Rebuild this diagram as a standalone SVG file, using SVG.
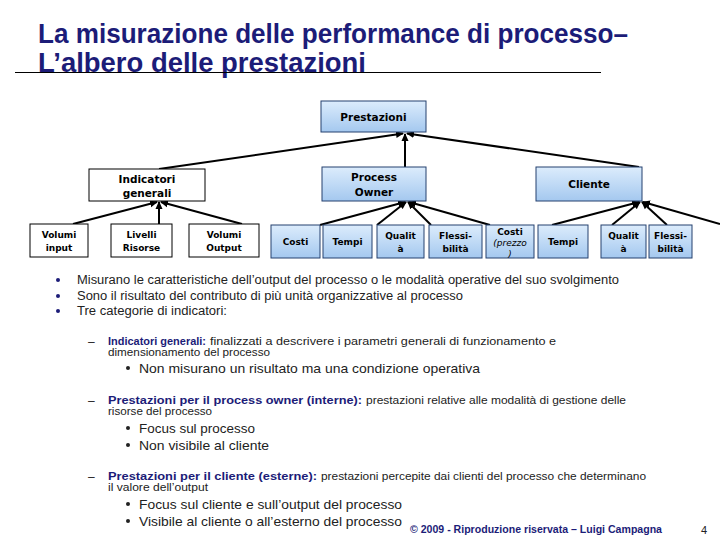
<svg xmlns="http://www.w3.org/2000/svg" width="720" height="540" viewBox="0 0 720 540">
<defs>
<linearGradient id="gb" x1="0" y1="0" x2="0" y2="1">
<stop offset="0" stop-color="#dcecfc"/>
<stop offset="1" stop-color="#a4c8ef"/>
</linearGradient>
<marker id="ah" markerUnits="userSpaceOnUse" markerWidth="8" markerHeight="8" refX="7" refY="4" orient="auto">
<path d="M0,0.5 L8,4 L0,7.5 Z" fill="#000"/>
</marker>
<style>
.bx{fill:url(#gb);stroke:#24406f;stroke-width:1}
.wx{fill:#fff;stroke:#000;stroke-width:1}
.nt{font-family:"DejaVu Sans",Verdana,sans-serif;font-weight:bold;fill:#000;text-anchor:middle}
.it{font-family:"DejaVu Sans",Verdana,sans-serif;font-style:italic;fill:#000;text-anchor:middle}
.cn line{stroke:#000;stroke-width:2;marker-end:url(#ah)}
.tt{font-family:"Liberation Sans",Arial,sans-serif;font-weight:bold;fill:#1c1c78;font-size:27px}
.bd{font-family:"Liberation Sans",Arial,sans-serif;fill:#222;}
.bb{font-family:"Liberation Sans",Arial,sans-serif;font-weight:bold;fill:#1c1c78;}
.dot{fill:#1c1c78}
</style>
</defs>
<rect width="720" height="540" fill="#fff"/>

<g id="title">
<text class="tt" x="38" y="43" textLength="590" lengthAdjust="spacingAndGlyphs">La misurazione delle performance di processo–</text>
<text class="tt" x="38" y="72" textLength="328" lengthAdjust="spacingAndGlyphs">L’albero delle prestazioni</text>
<line x1="15" y1="72.5" x2="601" y2="72.5" stroke="#000" stroke-width="1"/>
</g>

<g id="connectors" class="cn">
<line x1="159" y1="169" x2="403" y2="133.5"/>
<line x1="405" y1="167" x2="405" y2="134"/>
<line x1="639" y1="167" x2="407" y2="133.5"/>
<line x1="73" y1="224" x2="157" y2="202"/>
<line x1="159" y1="224" x2="159" y2="202"/>
<line x1="242" y1="224" x2="161" y2="202"/>
<line x1="320" y1="225" x2="405" y2="202"/>
<line x1="377" y1="225" x2="406" y2="202"/>
<line x1="431" y1="225" x2="408" y2="202"/>
<line x1="490" y1="225" x2="409" y2="202"/>
<line x1="552" y1="225" x2="639" y2="202"/>
<line x1="612" y1="225" x2="640" y2="202"/>
<line x1="667" y1="225" x2="642" y2="202"/>
<line x1="720" y1="224" x2="643" y2="202"/>
</g>

<g id="n-prestazioni"><rect class="bx" x="321" y="101" width="105" height="31"/><text class="nt" x="373.5" y="121" font-size="10.5">Prestazioni</text></g>
<g id="n-indicatori"><rect class="wx" x="89" y="169" width="116" height="32"/><text class="nt" x="147" y="183" font-size="10.5">Indicatori</text><text class="nt" x="147" y="197" font-size="10.5">generali</text></g>
<g id="n-processowner"><rect class="bx" x="322" y="167" width="104" height="34"/><text class="nt" x="374" y="181" font-size="10.5">Process</text><text class="nt" x="374" y="196" font-size="10.5">Owner</text></g>
<g id="n-cliente"><rect class="bx" x="536" y="167" width="106" height="34"/><text class="nt" x="589" y="188" font-size="10.5">Cliente</text></g>

<g id="n-volumi-input"><rect class="wx" x="30" y="224" width="58" height="33"/><text class="nt" x="59" y="238" font-size="9">Volumi</text><text class="nt" x="59" y="251" font-size="9">input</text></g>
<g id="n-livelli-risorse"><rect class="wx" x="111" y="224" width="61" height="33"/><text class="nt" x="141.5" y="238" font-size="9">Livelli</text><text class="nt" x="141.5" y="251" font-size="9">Risorse</text></g>
<g id="n-volumi-output"><rect class="wx" x="189" y="224" width="70" height="33"/><text class="nt" x="224" y="238" font-size="9">Volumi</text><text class="nt" x="224" y="251" font-size="9">Output</text></g>

<g id="n-po-costi"><rect class="bx" x="271" y="225" width="49" height="33"/><text class="nt" x="295.5" y="245" font-size="9">Costi</text></g>
<g id="n-po-tempi"><rect class="bx" x="323" y="225" width="49" height="33"/><text class="nt" x="347.5" y="245" font-size="9">Tempi</text></g>
<g id="n-po-qualita"><rect class="bx" x="377" y="225" width="47" height="33"/><text class="nt" x="400.5" y="239" font-size="9">Qualit</text><text class="nt" x="400.5" y="252" font-size="9">à</text></g>
<g id="n-po-flessibilita"><rect class="bx" x="429" y="225" width="53" height="33"/><text class="nt" x="455.5" y="239" font-size="9">Flessi-</text><text class="nt" x="455.5" y="252" font-size="9">bilità</text></g>

<g id="n-cl-costi"><rect class="bx" x="486" y="225" width="48" height="33"/><text class="nt" x="510" y="235" font-size="9">Costi</text><text class="it" x="510" y="246" font-size="9">(prezzo</text><text class="it" x="510" y="257" font-size="9">)</text></g>
<g id="n-cl-tempi"><rect class="bx" x="538" y="225" width="50" height="33"/><text class="nt" x="563" y="245" font-size="9">Tempi</text></g>
<g id="n-cl-qualita"><rect class="bx" x="601" y="225" width="45" height="33"/><text class="nt" x="623.5" y="239" font-size="9">Qualit</text><text class="nt" x="623.5" y="252" font-size="9">à</text></g>
<g id="n-cl-flessibilita"><rect class="bx" x="649" y="225" width="43" height="33"/><text class="nt" x="670.5" y="239" font-size="9">Flessi-</text><text class="nt" x="670.5" y="252" font-size="9">bilità</text></g>

<g id="body">
<circle class="dot" cx="58" cy="280" r="2"/>
<circle class="dot" cx="58" cy="296" r="2"/>
<circle class="dot" cx="58" cy="311" r="2"/>
<text class="bd" x="77" y="284" font-size="12" textLength="542" lengthAdjust="spacingAndGlyphs">Misurano le caratteristiche dell’output del processo o le modalità operative del suo svolgimento</text>
<text class="bd" x="77" y="299.5" font-size="12" textLength="386" lengthAdjust="spacingAndGlyphs">Sono il risultato del contributo di più unità organizzative al processo</text>
<text class="bd" x="77" y="315" font-size="12" textLength="150" lengthAdjust="spacingAndGlyphs">Tre categorie di indicatori:</text>

<text class="bd" x="88" y="346" font-size="12">–</text>
<text class="bb" x="108" y="345" font-size="11" textLength="98" lengthAdjust="spacingAndGlyphs">Indicatori generali:</text>
<text class="bd" x="210" y="345" font-size="10.5" textLength="346" lengthAdjust="spacingAndGlyphs">finalizzati a descrivere i parametri generali di funzionamento e</text>
<text class="bd" x="108" y="356" font-size="10.5" textLength="162" lengthAdjust="spacingAndGlyphs">dimensionamento del processo</text>
<circle cx="128" cy="368" r="2" fill="#222"/>
<text class="bd" x="139" y="372.5" font-size="13.5" textLength="341" lengthAdjust="spacingAndGlyphs">Non misurano un risultato ma una condizione operativa</text>

<text class="bd" x="88" y="405" font-size="12">–</text>
<text class="bb" x="108" y="404" font-size="11" textLength="254" lengthAdjust="spacingAndGlyphs">Prestazioni per il process owner (interne):</text>
<text class="bd" x="366" y="404" font-size="10.5" textLength="260" lengthAdjust="spacingAndGlyphs">prestazioni relative alle modalità di gestione delle</text>
<text class="bd" x="108" y="415" font-size="10.5" textLength="104" lengthAdjust="spacingAndGlyphs">risorse del processo</text>
<circle cx="128" cy="428" r="2" fill="#222"/>
<text class="bd" x="139" y="432.5" font-size="13.5" textLength="116" lengthAdjust="spacingAndGlyphs">Focus sul processo</text>
<circle cx="128" cy="445" r="2" fill="#222"/>
<text class="bd" x="139" y="449.5" font-size="13.5" textLength="130" lengthAdjust="spacingAndGlyphs">Non visibile al cliente</text>

<text class="bd" x="88" y="481" font-size="12">–</text>
<text class="bb" x="108" y="480" font-size="11" textLength="209" lengthAdjust="spacingAndGlyphs">Prestazioni per il cliente (esterne):</text>
<text class="bd" x="321" y="480" font-size="10.5" textLength="325" lengthAdjust="spacingAndGlyphs">prestazioni percepite dai clienti del processo che determinano</text>
<text class="bd" x="108" y="491" font-size="10.5" textLength="100" lengthAdjust="spacingAndGlyphs">il valore dell’output</text>
<circle cx="128" cy="504" r="2" fill="#222"/>
<text class="bd" x="139" y="508.5" font-size="13.5" textLength="263" lengthAdjust="spacingAndGlyphs">Focus sul cliente e sull’output del processo</text>
<circle cx="128" cy="521" r="2" fill="#222"/>
<text class="bd" x="139" y="525.5" font-size="13.5" textLength="263" lengthAdjust="spacingAndGlyphs">Visibile al cliente o all’esterno del processo</text>
</g>

<g id="footer">
<text class="bb" x="410" y="533" font-size="11" textLength="252" lengthAdjust="spacingAndGlyphs">© 2009 - Riproduzione riservata – Luigi Campagna</text>
<text class="bd" x="701" y="534" font-size="11" fill="#444">4</text>
</g>
</svg>
